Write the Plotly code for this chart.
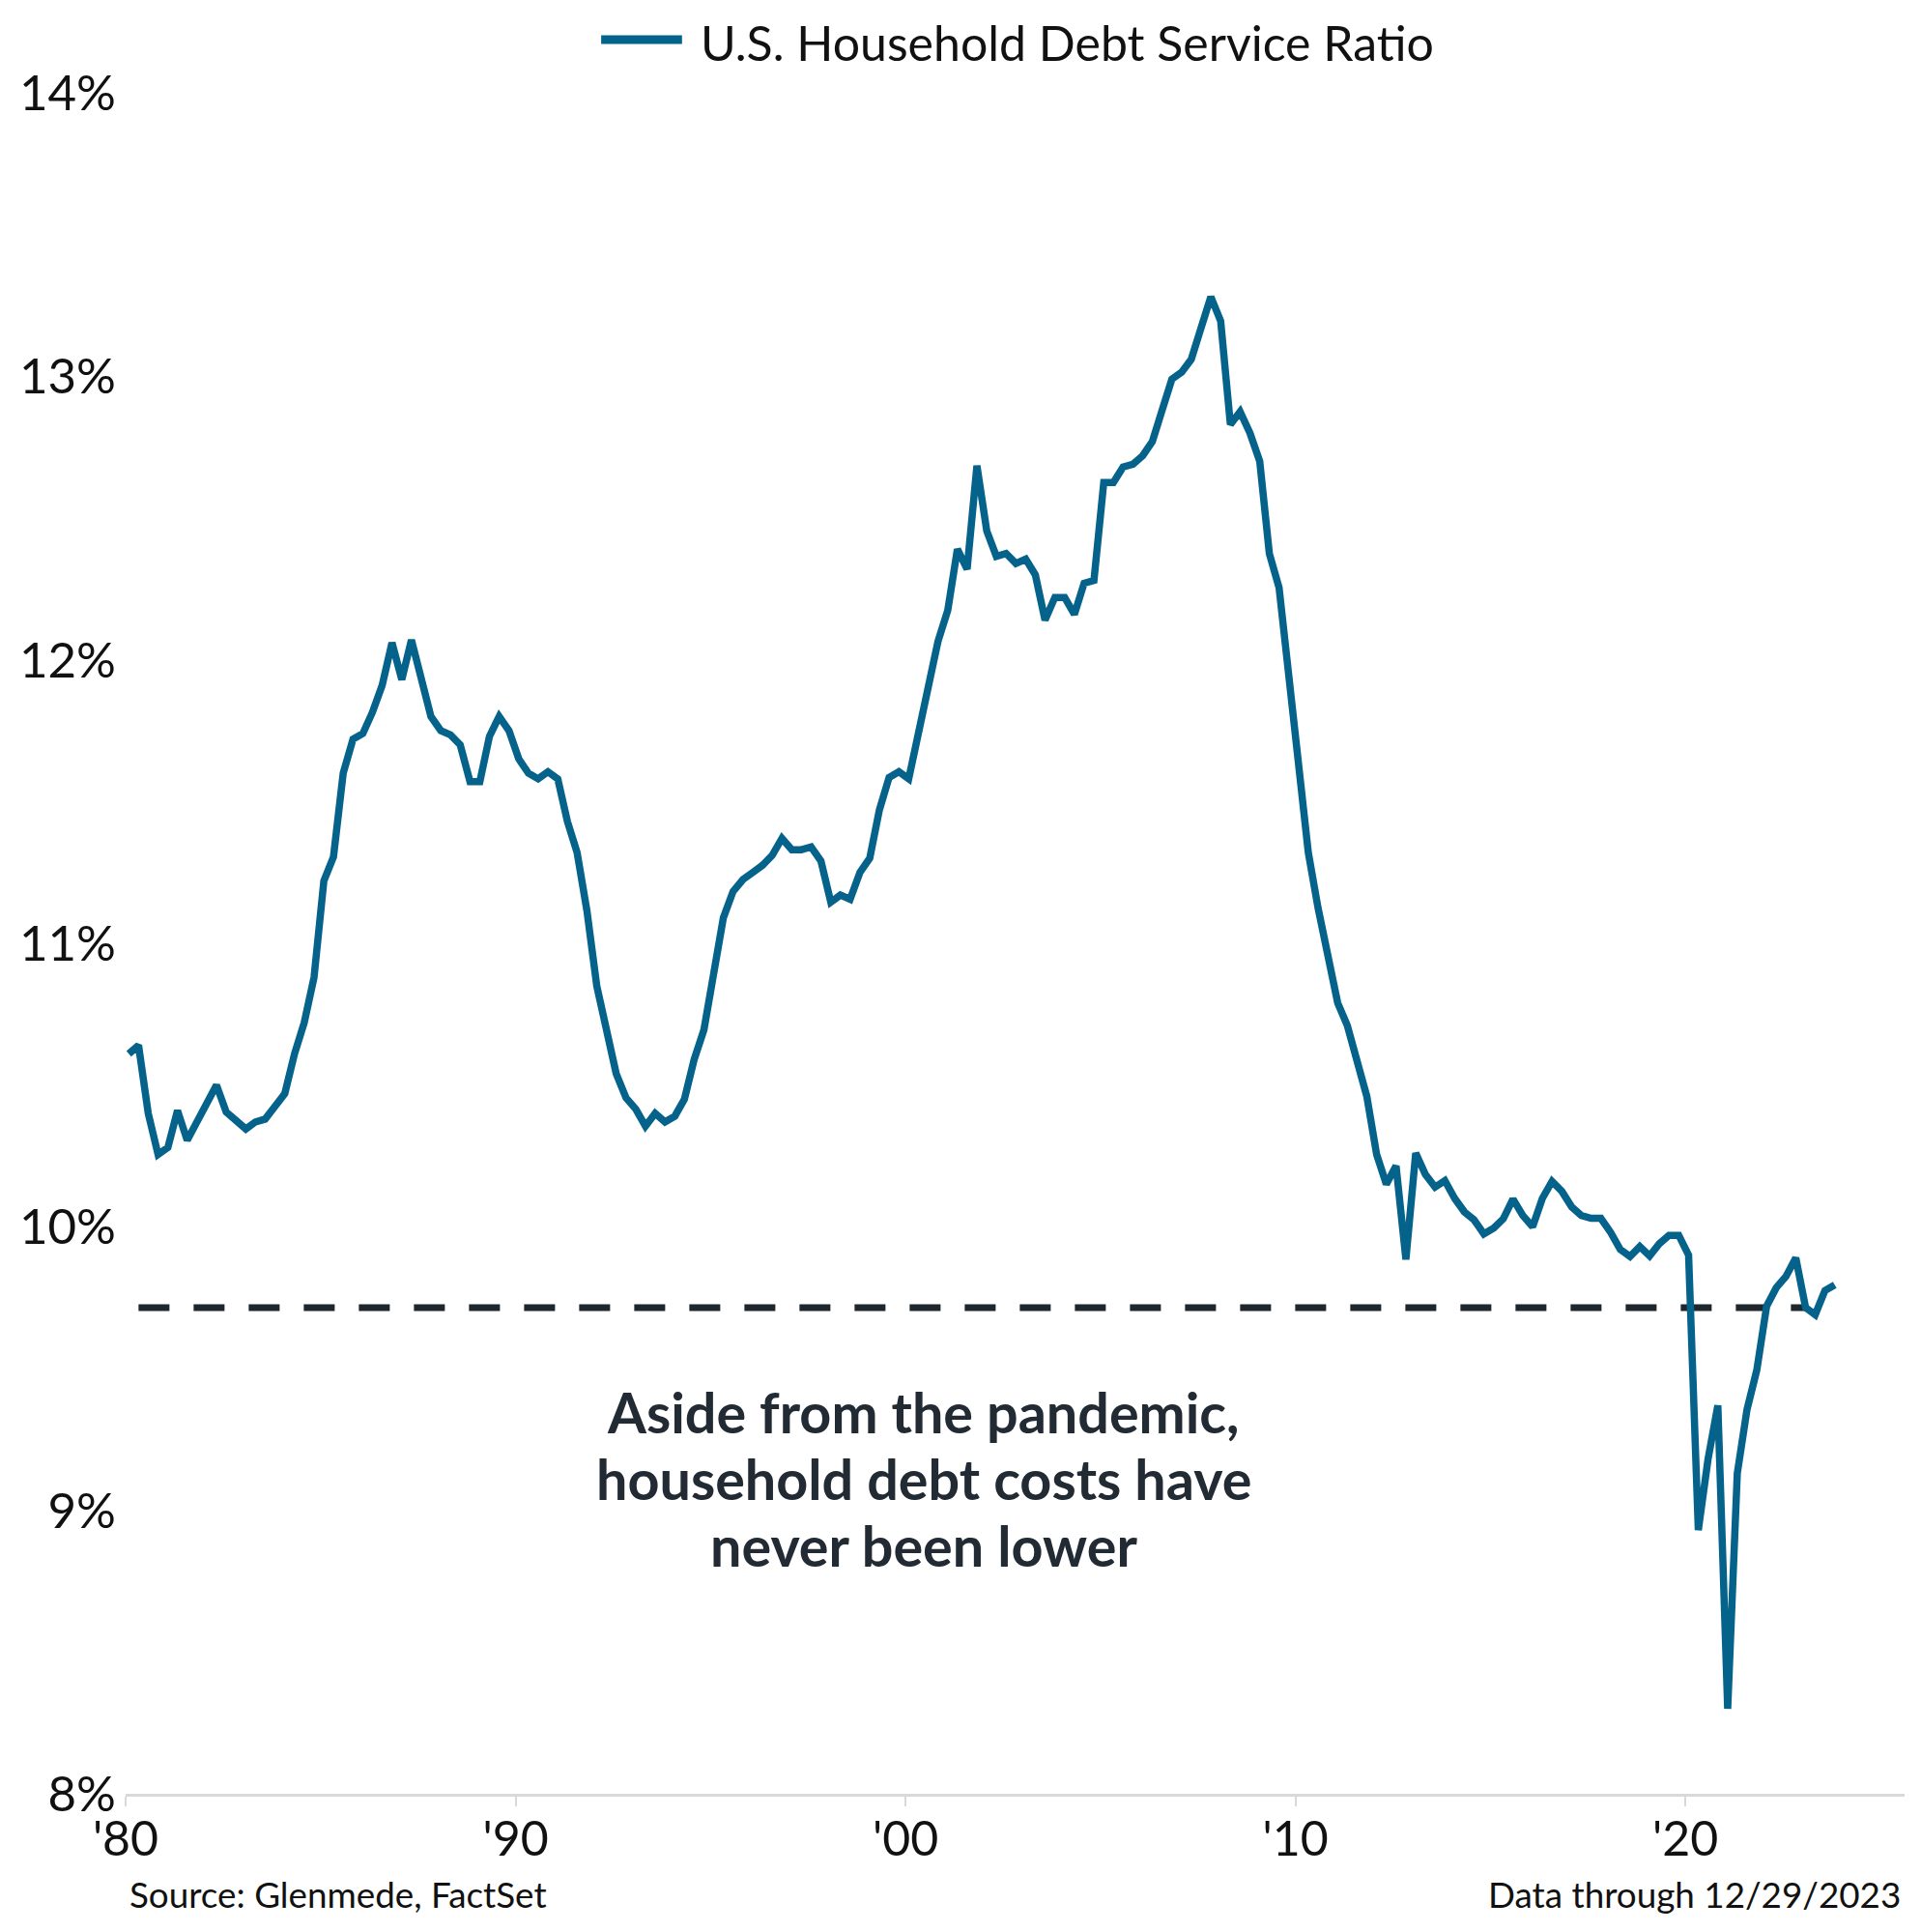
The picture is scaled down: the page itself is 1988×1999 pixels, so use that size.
import pandas as pd
import plotly.graph_objects as go

# ---------------------------------------------------------------
# Data: quarterly U.S. household debt service ratio (% of income)
# ---------------------------------------------------------------
dsr_values = [
    10.61, 10.64, 10.40, 10.255, 10.28, 10.41, 10.305, 10.37,      # 1980-81
    10.44, 10.50, 10.405, 10.375, 10.345, 10.37, 10.38, 10.425,    # 1982-83
    10.47, 10.61, 10.72, 10.88, 11.22, 11.305, 11.60, 11.72,       # 1984-85
    11.74, 11.815, 11.91, 12.06, 11.93, 12.07, 11.94, 11.80,       # 1986-87
    11.75, 11.735, 11.70, 11.57, 11.57, 11.73, 11.80, 11.75,       # 1988-89
    11.65, 11.60, 11.58, 11.605, 11.58, 11.43, 11.32, 11.115,      # 1990-91
    10.85, 10.68, 10.54, 10.455, 10.415, 10.355, 10.40, 10.37,     # 1992-93
    10.39, 10.45, 10.59, 10.695, 10.88, 11.09, 11.183, 11.225,     # 1994-95
    11.25, 11.275, 11.31, 11.37, 11.33, 11.33, 11.34, 11.29,       # 1996-97
    11.145, 11.17, 11.155, 11.25, 11.30, 11.47, 11.585, 11.605,    # 1998-99
    11.58, 11.735, 11.90, 12.065, 12.175, 12.39, 12.32, 12.685,    # 2000-01
    12.455, 12.365, 12.375, 12.34, 12.355, 12.30, 12.14, 12.22,    # 2002-03
    12.22, 12.16, 12.27, 12.28, 12.625, 12.625, 12.68, 12.69,      # 2004-05
    12.72, 12.77, 12.88, 12.99, 13.015, 13.06, 13.17, 13.28,       # 2006-07
    13.195, 12.83, 12.875, 12.80, 12.70, 12.375, 12.255, 11.955,   # 2008-09
    11.63, 11.32, 11.125, 10.95, 10.79, 10.71, 10.58, 10.46,       # 2010-11
    10.255, 10.15, 10.215, 9.885, 10.26, 10.185, 10.14, 10.163,    # 2012-13
    10.10, 10.053, 10.025, 9.975, 9.995, 10.028, 10.098, 10.04,    # 2014-15
    10.00, 10.10, 10.16, 10.125, 10.07, 10.04, 10.03, 10.03,       # 2016-17
    9.98, 9.92, 9.895, 9.93, 9.897, 9.94, 9.97, 9.97,              # 2018-19
    9.90, 8.93, 9.18, 9.37, 8.30, 9.13, 9.355, 9.495,              # 2020-21
    9.72, 9.785, 9.825, 9.89, 9.715, 9.69, 9.775, 9.795,           # 2022-23
]
# quarterly dates, 1980Q1 .. 2023Q4 (plotted a month into each quarter)
dsr_dates = pd.date_range("1980-01-01", periods=len(dsr_values), freq="QS") + pd.Timedelta(days=30)

# reference level (dashed line)
floor_value = 9.715
floor_dates = [dsr_dates[1], dsr_dates[172]]

tick_years = ["1980-01-01", "1990-01-01", "2000-01-01", "2010-01-01", "2020-01-01"]
tick_labels = ["'80", "'90", "'00", "'10", "'20"]
y_ticks = [8, 9, 10, 11, 12, 13, 14]
y_labels = [f"{v}%" for v in y_ticks]

note_lines = ["Aside from the pandemic,", "household debt costs have", "never been lower"]

# ---------------------------------------------------------------
# Palette / layout constants
# the page body adds an 8px offset, so the figure is drawn 8px smaller
# and page coordinates are converted back to paper coordinates
# ---------------------------------------------------------------
pal = {
    "blue": "#04628b",
    "dark": "#1f272e",
    "axis": "#d9d9d9",
    "text": "#111111",
    "note": "#222a33",
}
OFF = 8
W, H = 1980, 1983
L, R, T, B = 115, 17, 88, 135
PW, PH = W - L - R, H - T - B


def px_x(px):
    return (px - OFF - L) / PW


def px_y(py):
    return (H - B - (py - OFF)) / PH


fig = go.Figure()

fig.add_trace(
    go.Scatter(
        x=floor_dates,
        y=[floor_value, floor_value],
        mode="lines",
        line=dict(color=pal["dark"], width=7, dash="32px,25px"),
        hoverinfo="skip",
        showlegend=False,
    )
)
fig.add_trace(
    go.Scatter(
        x=dsr_dates,
        y=dsr_values,
        mode="lines",
        name="U.S. Household Debt Service Ratio",
        line=dict(color=pal["blue"], width=7.5),
        showlegend=False,
    )
)

fig.update_layout(
    width=W,
    height=H,
    margin=dict(l=L, r=R, t=T, b=B),
    paper_bgcolor="white",
    plot_bgcolor="white",
    font=dict(family="Lato", size=50, color=pal["text"]),
    showlegend=False,
)
fig.update_xaxes(
    type="date",
    range=["1980-01-01", "2025-08-15"],
    showgrid=False,
    zeroline=False,
    showline=True,
    linecolor=pal["axis"],
    linewidth=3,
    ticks="outside",
    ticklen=10,
    tickwidth=1.5,
    tickcolor=pal["axis"],
    tickvals=tick_years,
    ticktext=tick_labels,
    tickfont=dict(size=50, color=pal["text"]),
    ticklabelstandoff=-9,
)
fig.update_yaxes(
    range=[8, 14],
    showgrid=False,
    zeroline=False,
    showline=False,
    tickvals=y_ticks,
    ticktext=y_labels,
    tickfont=dict(size=51, color=pal["text"]),
    ticklabelstandoff=9,
)

# legend drawn by hand so the key line matches the long stroke
fig.add_shape(
    type="line",
    xref="paper",
    yref="paper",
    x0=px_x(617),
    x1=px_x(701),
    y0=px_y(41),
    y1=px_y(41),
    line=dict(color=pal["blue"], width=9),
)
fig.add_annotation(
    text="U.S. Household Debt Service Ratio",
    xref="paper",
    yref="paper",
    x=px_x(718),
    y=px_y(44),
    xanchor="left",
    yanchor="middle",
    showarrow=False,
    font=dict(size=50, color=pal["text"]),
)

# centred call-out, one annotation per line for tight leading
for line_text, y_px in zip(note_lines, [1460, 1529, 1598]):
    fig.add_annotation(
        text=line_text,
        xref="paper",
        yref="paper",
        x=px_x(952),
        y=px_y(y_px),
        xanchor="center",
        yanchor="middle",
        showarrow=False,
        font=dict(size=57.5, color=pal["note"], weight=700),
    )

fig.add_annotation(
    text="Source: Glenmede, FactSet",
    xref="paper",
    yref="paper",
    x=px_x(125),
    y=px_y(1960),
    xanchor="left",
    yanchor="middle",
    showarrow=False,
    font=dict(size=36.8, color=pal["text"]),
)
fig.add_annotation(
    text="Data through 12/29/2023",
    xref="paper",
    yref="paper",
    x=px_x(1969),
    y=px_y(1960),
    xanchor="right",
    yanchor="middle",
    showarrow=False,
    font=dict(size=36.8, color=pal["text"]),
)

fig.write_html("out.html")
